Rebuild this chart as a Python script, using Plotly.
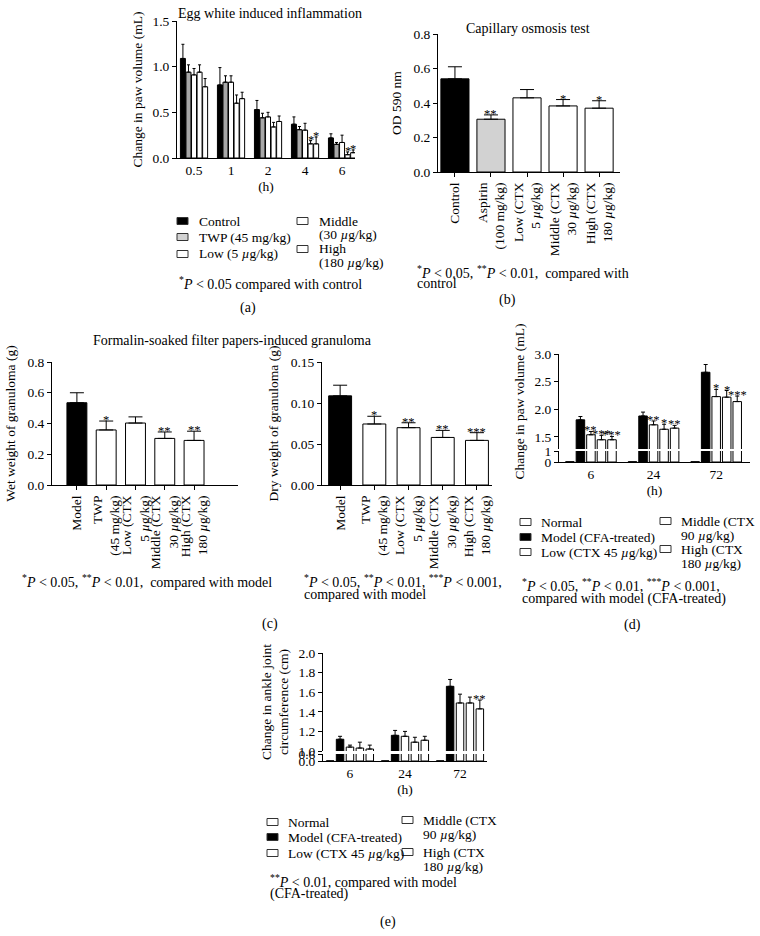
import plotly.graph_objects as go

W, H = 760, 936
FONT = "Liberation Serif"
BLACK = "#000000"
WHITE = "#ffffff"
GRAY_A = "#a8a8a8"
GRAY_B = "#d2d2d2"
TICK = 13.5
LEG = 13.5
NOTE = 14
TITLE = 14
AXT = 13.5
STAR = 12.5

def fx(px):
    return px / W

def fy(py):
    return 1 - py / H

# ---------------- data: (a) Egg white induced inflammation ----------------
a_hours = ["0.5", "1", "2", "4", "6"]
a_names = ["Control", "TWP (45 mg/kg)", "Low (5 <i>µ</i>g/kg)",
           "Middle<br>(30 <i>µ</i>g/kg)", "High<br>(180 <i>µ</i>g/kg)"]
a_control = [1.09, 0.80, 0.53, 0.37, 0.22]
a_control_err = [0.155, 0.19, 0.10, 0.08, 0.045]
a_twp = [0.94, 0.83, 0.44, 0.31, 0.15]
a_twp_err = [0.08, 0.07, 0.05, 0.035, 0.02]
a_low = [0.91, 0.83, 0.45, 0.305, 0.17]
a_low_err = [0.07, 0.07, 0.05, 0.075, 0.08]
a_middle = [0.94, 0.60, 0.34, 0.155, 0.036]
a_middle_err = [0.08, 0.09, 0.05, 0.035, 0.03]
a_high = [0.78, 0.65, 0.40, 0.155, 0.058]
a_high_err = [0.09, 0.07, 0.06, 0.075, 0.03]
a_middle_sig = ["", "", "", "*", "*"]
a_high_sig = ["", "", "", "*", "*"]

# ---------------- data: (b) Capillary osmosis test ----------------
b_groups = ["Control", "Aspirin<br>(100 mg/kg)", "Low (CTX<br>5 <i>µ</i>g/kg)",
            "Middle (CTX<br>30 <i>µ</i>g/kg)", "High (CTX<br>180 <i>µ</i>g/kg)"]
b_od = [0.54, 0.306, 0.43, 0.383, 0.37]
b_od_err = [0.07, 0.025, 0.048, 0.037, 0.043]
b_sig = ["", "**", "", "*", "*"]

# ---------------- data: (c) granuloma ----------------
c_groups = ["Model", "TWP<br>(45 mg/kg)", "Low (CTX<br>5 <i>µ</i>g/kg)",
            "Middle (CTX<br>30 <i>µ</i>g/kg)", "High (CTX<br>180 <i>µ</i>g/kg)"]
c_wet = [0.535, 0.358, 0.403, 0.303, 0.29]
c_wet_err = [0.065, 0.058, 0.04, 0.042, 0.06]
c_wet_sig = ["", "*", "", "**", "**"]
c_dry = [0.1087, 0.0744, 0.0699, 0.058, 0.0544]
c_dry_err = [0.013, 0.0094, 0.006, 0.0086, 0.0094]
c_dry_sig = ["", "*", "**", "**", "***"]

# ---------------- data: (d) paw volume, CFA ----------------
de_hours = ["6", "24", "72"]
de_names = ["Normal", "Model (CFA-treated)", "Low (CTX 45 <i>µ</i>g/kg)",
            "Middle (CTX<br>90 <i>µ</i>g/kg)", "High (CTX<br>180 <i>µ</i>g/kg)"]
d_normal = [0.03, 0.03, 0.03]
d_model = [1.81, 1.88, 2.67]
d_model_err = [0.06, 0.07, 0.14]
d_low = [1.54, 1.72, 2.23]
d_low_err = [0.06, 0.07, 0.13]
d_middle = [1.45, 1.64, 2.22]
d_middle_err = [0.08, 0.09, 0.12]
d_high = [1.45, 1.66, 2.14]
d_high_err = [0.06, 0.05, 0.10]
d_low_sig = ["**", "**", "*"]
d_middle_sig = ["***", "*", "*"]
d_high_sig = ["***", "**", "***"]

# ---------------- data: (e) ankle joint circumference ----------------
e_normal = [0.02, 0.02, 0.02]
e_model = [1.12, 1.16, 1.66]
e_model_err = [0.03, 0.05, 0.07]
e_low = [1.04, 1.15, 1.49]
e_low_err = [0.02, 0.05, 0.09]
e_middle = [1.03, 1.09, 1.49]
e_middle_err = [0.06, 0.05, 0.06]
e_high = [1.02, 1.11, 1.43]
e_high_err = [0.04, 0.04, 0.09]
e_high_sig = ["", "", "**"]

fig = go.Figure()
annotations = []
shapes = []


def stars(xa, ya, xs, tops, sig):
    for x, t, s in zip(xs, tops, sig):
        if s:
            annotations.append(dict(x=x, y=t, xref=xa, yref=ya, text=s, showarrow=False,
                                    xanchor="center", yanchor="middle", yshift=1,
                                    font=dict(family=FONT, size=STAR, color=BLACK)))


def grouped(xa, ya, means, errs, sigs, colors, step, width, capw, with_err=True):
    n = len(means)
    for j in range(n):
        m, e, s, c = means[j], errs[j], sigs[j], colors[j]
        xs = [i + (j - (n - 1) / 2) * step for i in range(len(m))]
        kw = {}
        if with_err and e is not None:
            kw["error_y"] = dict(type="data", array=e, arrayminus=[0] * len(e),
                                 symmetric=False, color=BLACK, thickness=1, width=capw)
        fig.add_trace(go.Bar(x=xs, y=m, width=width, xaxis=xa, yaxis=ya,
                             marker=dict(color=c, line=dict(color=BLACK, width=1)),
                             showlegend=False, hoverinfo="skip", **kw))
        if with_err and s is not None:
            tops = [mm + ee for mm, ee in zip(m, e)]
            stars(xa, ya, xs, tops, s)


def single(xa, ya, means, errs, sigs, colors, width, capw):
    xs = list(range(len(means)))
    fig.add_trace(go.Bar(x=xs, y=means, width=width, xaxis=xa, yaxis=ya,
                         marker=dict(color=colors, line=dict(color=BLACK, width=1)),
                         error_y=dict(type="data", array=errs, arrayminus=[0] * len(errs),
                                      symmetric=False, color=BLACK, thickness=1, width=capw),
                         showlegend=False, hoverinfo="skip"))
    tops = [m + e for m, e in zip(means, errs)]
    stars(xa, ya, xs, tops, sigs)


a_colors = [BLACK, GRAY_A, WHITE, WHITE, WHITE]
grouped("x", "y", [a_control, a_twp, a_low, a_middle, a_high],
        [a_control_err, a_twp_err, a_low_err, a_middle_err, a_high_err],
        [None, None, None, a_middle_sig, a_high_sig], a_colors, 0.15, 0.135, 1.5)

single("x2", "y2", b_od, b_od_err, b_sig, [BLACK, GRAY_B, WHITE, WHITE, WHITE], 0.78, 7)
single("x3", "y3", c_wet, c_wet_err, c_wet_sig, [BLACK, WHITE, WHITE, WHITE, WHITE], 0.68, 7)
single("x4", "y4", c_dry, c_dry_err, c_dry_sig, [BLACK, WHITE, WHITE, WHITE, WHITE], 0.67, 7)

de_colors = [WHITE, BLACK, WHITE, WHITE, WHITE]
d_means = [d_normal, d_model, d_low, d_middle, d_high]
d_errs = [None, d_model_err, d_low_err, d_middle_err, d_high_err]
d_sigs = [None, None, d_low_sig, d_middle_sig, d_high_sig]
grouped("x5", "y5", d_means, d_errs, d_sigs, de_colors, 0.168, 0.136, 2, with_err=False)
grouped("x5", "y6", d_means, d_errs, d_sigs, de_colors, 0.168, 0.136, 2)

e_means = [e_normal, e_model, e_low, e_middle, e_high]
e_errs = [None, e_model_err, e_low_err, e_middle_err, e_high_err]
e_sigs = [None, None, None, None, e_high_sig]
grouped("x6", "y7", e_means, e_errs, e_sigs, de_colors, 0.18, 0.136, 2, with_err=False)
grouped("x6", "y8", e_means, e_errs, e_sigs, de_colors, 0.18, 0.136, 2)

# ---------------- axes ----------------
tf = dict(family=FONT, size=TICK, color=BLACK)
af = dict(family=FONT, size=AXT, color=BLACK)


def base():
    return dict(showline=True, linecolor=BLACK, linewidth=1, showgrid=False,
                zeroline=False, tickfont=tf, tickcolor=BLACK, fixedrange=True,
                automargin=False)


def xaxis(d0, d1, rng, labels, anchor, ticks="", angle=None, title=None, standoff=6):
    ax = base()
    ax.update(domain=[fx(d0), fx(d1)], range=rng, anchor=anchor,
              tickmode="array", tickvals=list(range(len(labels))), ticktext=labels,
              ticks=ticks, ticklen=4)
    if angle is not None:
        ax["tickangle"] = angle
    if title:
        ax["title"] = dict(text=title, font=af, standoff=standoff)
    return ax


def yaxis(top, bottom, rng, anchor, tickvals, fmt, title=None, standoff=5):
    ax = base()
    ax.update(domain=[fy(bottom), fy(top)], range=rng, anchor=anchor,
              tickmode="array", tickvals=tickvals, tickformat=fmt,
              ticks="outside", ticklen=4)
    if title:
        ax["title"] = dict(text=title, font=af, standoff=standoff)
    return ax


layout_axes = dict(
    xaxis=xaxis(177, 355, [-0.46, 4.35], a_hours, "y", title="(h)", standoff=4),
    yaxis=yaxis(21, 158, [0, 1.5], "x", [0, 0.5, 1.0, 1.5], ".1f",
                title="Change in paw volume (mL)", standoff=6),
    xaxis2=xaxis(438, 620, [-0.47, 4.58], b_groups, "y2", ticks="outside", angle=-90),
    yaxis2=yaxis(34, 172, [0, 0.8], "x2", [0, 0.2, 0.4, 0.6, 0.8], ".1f",
                 title="OD 590 nm", standoff=8),
    xaxis3=xaxis(52, 238, [-0.85, 5.5], c_groups, "y3", ticks="outside", angle=-90),
    yaxis3=yaxis(362, 485, [0, 0.8], "x3", [0, 0.2, 0.4, 0.6, 0.8], ".1f",
                 title="Wet weight of granuloma (g)", standoff=8),
    xaxis4=xaxis(322, 492, [-0.53, 4.44], c_groups, "y4", ticks="outside", angle=-90),
    yaxis4=yaxis(362, 485, [0, 0.15], "x4", [0, 0.05, 0.10, 0.15], ".2f",
                 title="Dry weight of granuloma (g)", standoff=8),
    xaxis5=xaxis(559, 750, [-0.51, 2.54], de_hours, "y5", title="(h)", standoff=4),
    yaxis5=yaxis(451, 462, [0, 1], "x5", [0, 1], "d"),
    yaxis6=yaxis(354, 449, [1.283, 3.0], "x5", [1.5, 2.0, 2.5, 3.0], ".1f",
                 title="Change in paw volume (mL)", standoff=6),
    xaxis6=xaxis(323, 487, [-0.49, 2.49], de_hours, "y7", title="(h)", standoff=4),
    yaxis7=yaxis(754, 761, [0, 0.6], "x6", [0, 0.6], ".1f"),
    yaxis8=yaxis(653, 751, [1.0, 2.0], "x6", [1.0, 1.2, 1.4, 1.6, 1.8, 2.0], ".1f",
                 title="Change in ankle joint<br>circumference (cm)", standoff=6),
)

# ---------------- texts ----------------


def text(px, py, s, xanchor="left", size=NOTE):
    annotations.append(dict(x=fx(px), y=fy(py), xref="paper", yref="paper", text=s,
                            showarrow=False, xanchor=xanchor, yanchor="middle",
                            align="left", font=dict(family=FONT, size=size, color=BLACK)))


def lines(px, py, s, gap, size=NOTE):
    for k, part in enumerate(s.split("<br>")):
        text(px, py + k * gap, part, size=size)


def box(px, py, color, w=11, h=7):
    shapes.append(dict(type="rect", xref="paper", yref="paper",
                       x0=fx(px), x1=fx(px + w), y0=fy(py + h / 2), y1=fy(py - h / 2),
                       fillcolor=color, line=dict(color="#333333", width=1)))


# titles
text(270, 14, "Egg white induced inflammation", xanchor="center", size=TITLE)
text(528, 28, "Capillary osmosis test", xanchor="center", size=TITLE)
text(232, 340, "Formalin-soaked filter papers-induced granuloma", xanchor="center", size=TITLE)

# legend (a)
a_leg = [(177, 221), (177, 237), (177, 254), (297, 221), (297, 249)]
for (lx, ly), nm, col in zip(a_leg, a_names, [BLACK, GRAY_B, WHITE, WHITE, WHITE]):
    box(lx, ly, col)
    lines(lx + 20, ly, nm, 13, size=LEG)
text(177, 283, "<sup>*</sup><i>P</i> < 0.05 compared with control")
text(248, 308, "(a)", xanchor="center")

# (b)
lines(415, 272, "<sup>*</sup><i>P</i> < 0.05, <sup>**</sup><i>P</i> < 0.01,  compared with<br>control", 11)
text(507, 300, "(b)", xanchor="center")

# (c)
text(20, 581, "<sup>*</sup><i>P</i> < 0.05, <sup>**</sup><i>P</i> < 0.01,  compared with model")
lines(302, 581, "<sup>*</sup><i>P</i> < 0.05, <sup>**</sup><i>P</i> < 0.01, <sup>***</sup><i>P</i> < 0.001,<br>compared with model", 13)
text(270, 624, "(c)", xanchor="center")


def de_legend(x1, x2, ys1, ys2):
    pos = [(x1, ys1[0]), (x1, ys1[1]), (x1, ys1[2]), (x2, ys2[0]), (x2, ys2[1])]
    for (lx, ly), nm, col in zip(pos, de_names, de_colors):
        box(lx, ly, col)
        lines(lx + 19, ly, nm, 14, size=LEG)


de_legend(520, 660, [522, 537, 552], [521, 549])
lines(520, 585, "<sup>*</sup><i>P</i> < 0.05, <sup>**</sup><i>P</i> < 0.01, <sup>***</sup><i>P</i> < 0.001,<br>compared with model (CFA-treated)", 14)
text(632, 625, "(d)", xanchor="center")

de_legend(267, 402, [822, 837, 853], [820, 852])
lines(268, 881, "<sup>**</sup><i>P</i> < 0.01, compared with model<br>(CFA-treated)", 13)
text(388, 922, "(e)", xanchor="center")

fig.update_layout(
    width=W, height=H, autosize=False,
    margin=dict(l=0, r=0, t=0, b=0, pad=0),
    paper_bgcolor=WHITE, plot_bgcolor=WHITE,
    barmode="overlay", showlegend=False,
    font=dict(family=FONT, size=TICK, color=BLACK),
    annotations=annotations, shapes=shapes,
    **layout_axes,
)

fig.write_html(
    "out.html",
    config={"displayModeBar": False},
    post_script="document.body.style.margin='0px';document.body.style.overflow='hidden';",
)
